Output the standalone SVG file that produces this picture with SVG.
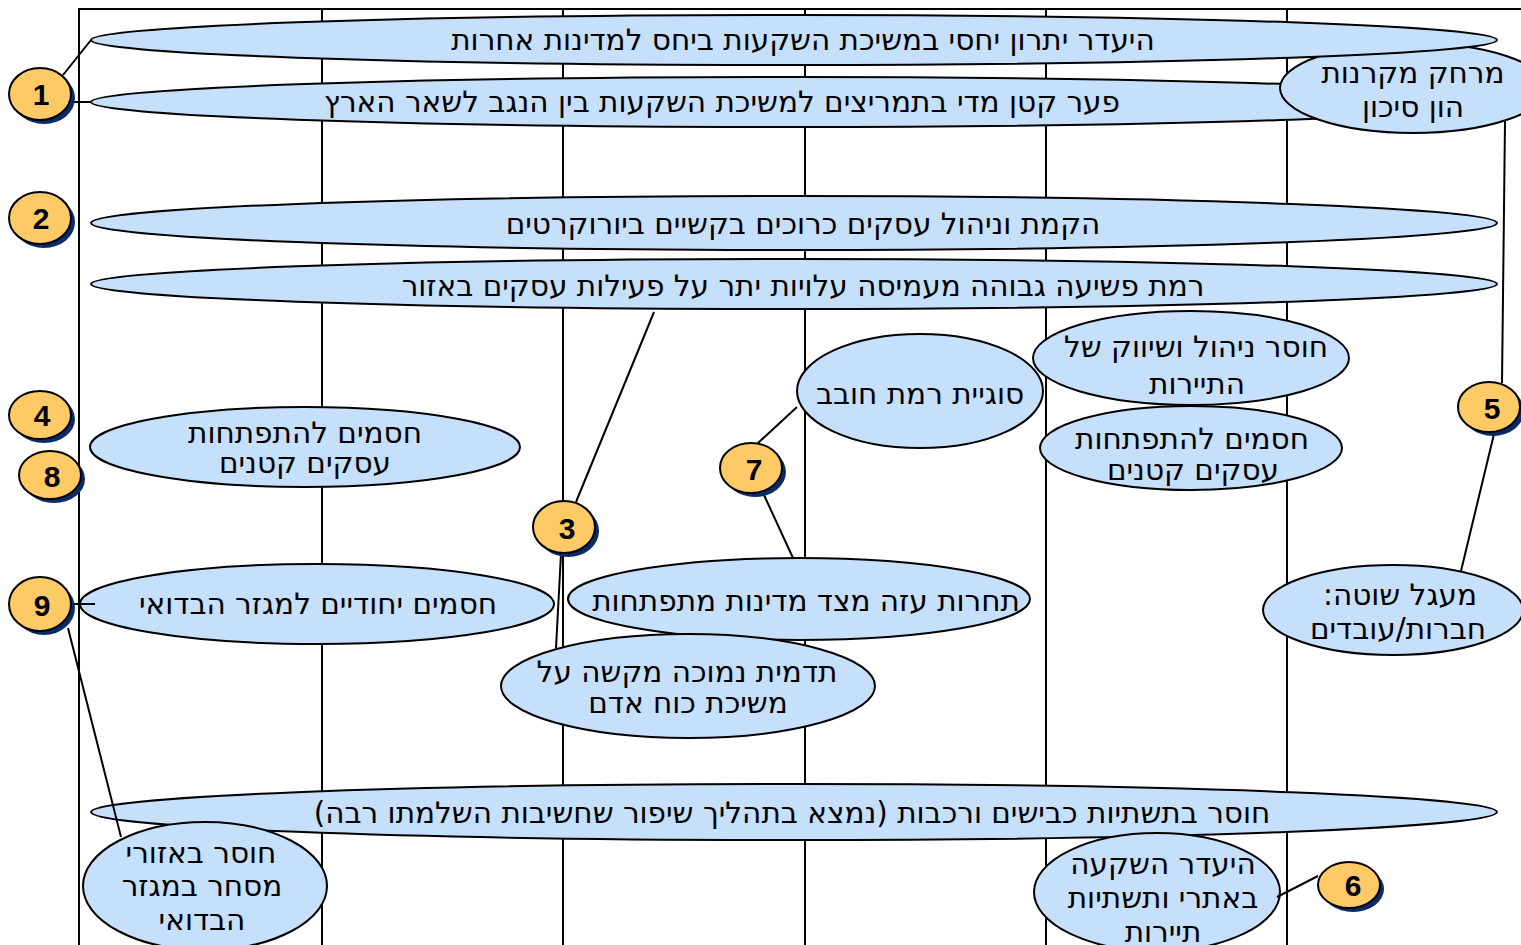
<svg xmlns="http://www.w3.org/2000/svg" width="1521" height="945" viewBox="0 0 1521 945">
<style>
.grid{stroke:#000;stroke-width:2;fill:none}
.conn{stroke:#000;stroke-width:2;fill:none}
.el{fill:#c6dffa;stroke:#000;stroke-width:2}
.t{font-family:"DejaVu Sans",sans-serif;font-size:29.5px;fill:#000;text-anchor:middle;direction:rtl}
.num{fill:#fdca66;stroke:#000;stroke-width:2}
.sh{fill:#0b2a68}
.n{font-family:"Liberation Sans",Arial,sans-serif;font-weight:bold;font-size:30px;fill:#000;text-anchor:middle}
</style>
<rect width="1521" height="945" fill="#fff"/>
<g id="grid">
<path class="grid" d="M79,945V9H1521M322,9V945M563,9V945M805,9V945M1046,9V945M1287,9V945"/>
</g>
<g id="e2"><ellipse class="el" cx="794" cy="102" rx="703" ry="25"/><text class="t" x="722" y="112">פער קטן מדי בתמריצים למשיכת השקעות בין הנגב לשאר הארץ</text></g>
<g id="e-vc"><ellipse class="el" cx="1413" cy="88" rx="133" ry="45"/><text class="t" x="1413" y="83">מרחק מקרנות</text><text class="t" x="1413" y="117">הון סיכון</text></g>
<g id="e1"><ellipse class="el" cx="794" cy="40" rx="703" ry="25"/><text class="t" x="803" y="50">היעדר יתרון יחסי במשיכת השקעות ביחס למדינות אחרות</text></g>
<g id="e3"><ellipse class="el" cx="794" cy="223" rx="703" ry="27"/><text class="t" x="803" y="234">הקמת וניהול עסקים כרוכים בקשיים ביורוקרטים</text></g>
<g id="e4"><ellipse class="el" cx="794" cy="284" rx="703" ry="25"/><text class="t" x="803" y="296">רמת פשיעה גבוהה מעמיסה עלויות יתר על פעילות עסקים באזור</text></g>
<g id="e-debt"><ellipse class="el" cx="920" cy="391" rx="123" ry="57"/><text class="t" x="920" y="404">סוגיית רמת חובב</text></g>
<g id="e-tour"><ellipse class="el" cx="1191" cy="358" rx="158" ry="47"/><text class="t" x="1196" y="357">חוסר ניהול ושיווק של</text><text class="t" x="1197" y="394">התיירות</text></g>
<g id="e-small-r"><ellipse class="el" cx="1191" cy="448" rx="151" ry="42"/><text class="t" x="1192" y="449">חסמים להתפתחות</text><text class="t" x="1193" y="480">עסקים קטנים</text></g>
<g id="e-small-l"><ellipse class="el" cx="305" cy="447" rx="215" ry="40"/><text class="t" x="305" y="443">חסמים להתפתחות</text><text class="t" x="305" y="473">עסקים קטנים</text></g>
<g id="e-bedouin"><ellipse class="el" cx="317" cy="604" rx="237" ry="40"/><text class="t" x="318" y="614">חסמים יחודיים למגזר הבדואי</text></g>
<g id="e-compet"><ellipse class="el" cx="799" cy="599" rx="231" ry="41"/><text class="t" x="806" y="611">תחרות עזה מצד מדינות מתפתחות</text></g>
<g id="e-image"><ellipse class="el" cx="688" cy="686" rx="187" ry="52"/><text class="t" x="687" y="682">תדמית נמוכה מקשה על</text><text class="t" x="688" y="713">משיכת כוח אדם</text></g>
<g id="e-vicious"><ellipse class="el" cx="1393" cy="610" rx="130" ry="45"/><text class="t" x="1400" y="605">מעגל שוטה:</text><text class="t" x="1398" y="639">חברות/עובדים</text></g>
<g id="e-infra"><ellipse class="el" cx="794" cy="812" rx="703" ry="28"/><text class="t" x="792" y="823">חוסר בתשתיות כבישים ורכבות (נמצא בתהליך שיפור שחשיבות השלמתו רבה)</text></g>
<g id="e-trade"><ellipse class="el" cx="205" cy="886" rx="122" ry="64"/><text class="t" x="201" y="863">חוסר באזורי</text><text class="t" x="202" y="896">מסחר במגזר</text><text class="t" x="202" y="930">הבדואי</text></g>
<g id="e-sites"><ellipse class="el" cx="1157" cy="892" rx="123" ry="59"/><text class="t" x="1163" y="874">היעדר השקעה</text><text class="t" x="1163" y="908">באתרי ותשתיות</text><text class="t" x="1163" y="942">תיירות</text></g>
<g id="connectors">
<path class="conn" d="M63,75L91,40M70,102H91M576,502L654,312M561,554L556,648M758,443L797,407M764,495L793,558M1505,121L1502,383M1494,434L1461,571M1318,876L1277,897M70,604H95M68,628L121,837"/>
</g>
<g id="c1"><ellipse class="sh" cx="44" cy="98" rx="31" ry="26"/><ellipse class="num" cx="40" cy="94" rx="31" ry="26"/><text class="n" x="41" y="105">1</text></g>
<g id="c2"><ellipse class="sh" cx="44" cy="222" rx="31" ry="26"/><ellipse class="num" cx="40" cy="218" rx="31" ry="26"/><text class="n" x="41" y="229">2</text></g>
<g id="c4"><ellipse class="sh" cx="44" cy="419" rx="31" ry="24"/><ellipse class="num" cx="40" cy="415" rx="31" ry="24"/><text class="n" x="42" y="426">4</text></g>
<g id="c8"><ellipse class="sh" cx="54" cy="479" rx="31" ry="24"/><ellipse class="num" cx="50" cy="475" rx="31" ry="24"/><text class="n" x="52" y="487">8</text></g>
<g id="c9"><ellipse class="sh" cx="44" cy="608" rx="31" ry="27"/><ellipse class="num" cx="40" cy="604" rx="31" ry="27"/><text class="n" x="42" y="616">9</text></g>
<g id="c3"><ellipse class="sh" cx="568" cy="531" rx="31" ry="26"/><ellipse class="num" cx="564" cy="527" rx="31" ry="26"/><text class="n" x="567" y="539">3</text></g>
<g id="c7"><ellipse class="sh" cx="755" cy="472" rx="31" ry="25"/><ellipse class="num" cx="751" cy="468" rx="31" ry="25"/><text class="n" x="754" y="480">7</text></g>
<g id="c5"><ellipse class="sh" cx="1493" cy="411" rx="31" ry="25"/><ellipse class="num" cx="1489" cy="407" rx="31" ry="25"/><text class="n" x="1492" y="419">5</text></g>
<g id="c6"><ellipse class="sh" cx="1353" cy="889" rx="31" ry="23"/><ellipse class="num" cx="1349" cy="885" rx="31" ry="23"/><text class="n" x="1353" y="896">6</text></g>
</svg>
